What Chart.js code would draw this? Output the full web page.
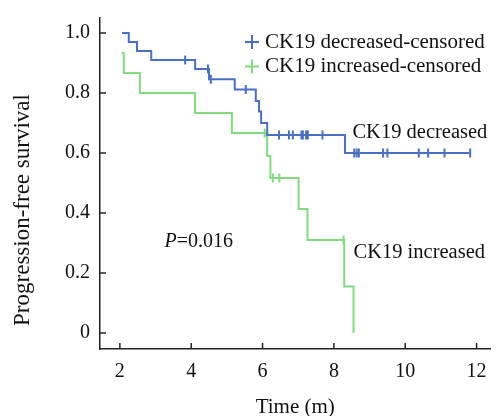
<!DOCTYPE html>
<html>
<head>
<meta charset="utf-8">
<script src="https://cdn.jsdelivr.net/npm/chart.js@4.4.0/dist/chart.umd.min.js"></script>
<style>
html, body { margin: 0; padding: 0; background: #fff; }
#wrap { width: 497px; height: 416px; }
</style>
</head>
<body>
<div id="wrap"><canvas id="grafico"></canvas></div>
<script>
// CK19 decreased: time of each step and survival after the step
const decTimes = [2.06, 2.25, 2.48, 2.88, 4.11, 4.50, 5.22, 5.81, 5.90, 5.96, 6.13, 8.31, 11.82];
const decSurv  = [1.0, 0.97, 0.94, 0.91, 0.88, 0.846, 0.812, 0.773, 0.738, 0.70, 0.66, 0.60, 0.60];
const decCensTimes = [3.83, 4.47, 4.55, 5.53, 6.46, 6.74, 6.85, 7.09, 7.13, 7.22, 7.27, 7.68, 8.57, 8.64, 8.70, 9.38, 9.50, 10.38, 10.64, 11.10, 11.82];
const decCensSurv  = [0.91, 0.88, 0.846, 0.812, 0.66, 0.66, 0.66, 0.66, 0.66, 0.66, 0.66, 0.66, 0.60, 0.60, 0.60, 0.60, 0.60, 0.60, 0.60, 0.60, 0.60];

// CK19 increased
const incTimes = [2.05, 2.11, 2.56, 4.11, 5.14, 6.13, 6.22, 7.01, 7.26, 8.29, 8.55];
const incSurv  = [0.933, 0.867, 0.80, 0.733, 0.667, 0.59, 0.517, 0.413, 0.31, 0.155, 0.0];
const incCensTimes = [6.06, 6.29, 6.47, 8.27];
const incCensSurv  = [0.667, 0.517, 0.517, 0.31];

const xTicks = [2, 4, 6, 8, 10, 12];
const yTicks = [0, 0.2, 0.4, 0.6, 0.8, 1.0];

const blue = '#4a6fc6';
const green = '#80dc7c';
const font = '"Liberation Serif", "Times New Roman", serif';

function toPoints(xs, ys) {
    return xs.map((x, i) => ({ x: x, y: ys[i] }));
}

// inward ticks, axis titles, legend and labels
const extras = {
    id: 'extras',
    afterDraw(chart) {
        const ctx = chart.ctx;
        const sx = chart.scales.x, sy = chart.scales.y;
        const area = chart.chartArea;
        ctx.save();
        ctx.strokeStyle = '#222';
        ctx.lineWidth = 1.5;
        xTicks.forEach(v => {
            const px = sx.getPixelForValue(v);
            ctx.beginPath();
            ctx.moveTo(px, area.bottom);
            ctx.lineTo(px, area.bottom - 6);
            ctx.stroke();
        });
        yTicks.forEach(v => {
            const py = sy.getPixelForValue(v);
            ctx.beginPath();
            ctx.moveTo(area.left, py);
            ctx.lineTo(area.left + 6, py);
            ctx.stroke();
        });

        ctx.fillStyle = '#111';
        ctx.font = '21px ' + font;
        ctx.textAlign = 'center';
        ctx.textBaseline = 'middle';
        ctx.fillText('Time (m)', (area.left + area.right) / 2, 407);
        ctx.save();
        ctx.translate(23, 210);
        ctx.rotate(-Math.PI / 2);
        ctx.font = '23px ' + font;
        ctx.fillText('Progression-free survival', 0, 0);
        ctx.restore();

        // legend
        const items = chart.data.datasets.filter(d => d.isCensor);
        items.forEach((d, i) => {
            const cy = 42 + i * 24.5;
            ctx.strokeStyle = d.borderColor;
            ctx.lineWidth = 2;
            ctx.beginPath();
            ctx.moveTo(245, cy); ctx.lineTo(259, cy);
            ctx.moveTo(252, cy - 7); ctx.lineTo(252, cy + 7);
            ctx.stroke();
            ctx.fillStyle = '#111';
            ctx.textAlign = 'left';
            ctx.fillText(d.label, 265, cy);
        });

        // curve labels and p value
        ctx.font = '20.5px ' + font;
        ctx.textAlign = 'left';
        ctx.textBaseline = 'alphabetic';
        ctx.fillText('CK19 decreased', sx.getPixelForValue(8.52), sy.getPixelForValue(0.65));
        ctx.fillText('CK19 increased', sx.getPixelForValue(8.55), sy.getPixelForValue(0.25));
        const px = sx.getPixelForValue(3.25), py = sy.getPixelForValue(0.288);
        ctx.font = 'italic 20px ' + font;
        ctx.fillText('P', px, py);
        const w = ctx.measureText('P').width;
        ctx.font = '20px ' + font;
        ctx.fillText('=0.016', px + w, py);
        ctx.restore();
    }
};

const grafico = document.getElementById('grafico').getContext('2d');
const myChart = new Chart(grafico, {
    type: 'line',
    data: {
        datasets: [{
            label: 'CK19 decreased',
            data: toPoints(decTimes, decSurv),
            borderColor: blue,
            borderWidth: 2,
            stepped: 'before',
            pointRadius: 0
        }, {
            label: 'CK19 increased',
            data: toPoints(incTimes, incSurv),
            borderColor: green,
            borderWidth: 2,
            stepped: 'before',
            pointRadius: 0
        }, {
            label: 'CK19 decreased-censored',
            isCensor: true,
            data: toPoints(decCensTimes, decCensSurv),
            showLine: false,
            borderColor: blue,
            backgroundColor: blue,
            pointStyle: 'line',
            rotation: 90,
            pointRadius: 4.5,
            pointBorderWidth: 2
        }, {
            label: 'CK19 increased-censored',
            isCensor: true,
            data: toPoints(incCensTimes, incCensSurv),
            showLine: false,
            borderColor: green,
            backgroundColor: green,
            pointStyle: 'line',
            rotation: 90,
            pointRadius: 4.5,
            pointBorderWidth: 2
        }]
    },
    options: {
        responsive: true,
        maintainAspectRatio: false,
        animation: false,
        layout: { padding: { left: 0, right: 4, top: 18, bottom: 0 } },
        plugins: {
            legend: { display: false },
            tooltip: { enabled: false }
        },
        scales: {
            x: {
                type: 'linear',
                min: 1.443,
                max: 12.39,
                grid: { display: false, drawTicks: false },
                border: { display: true, color: '#222', width: 1.5 },
                afterBuildTicks: (scale) => { scale.ticks = xTicks.map(v => ({ value: v })); },
                afterFit: (scale) => { scale.height = 67; scale.paddingLeft = 0; scale.paddingRight = 0; },
                ticks: {
                    color: '#111',
                    padding: 11,
                    maxRotation: 0,
                    font: { family: font, size: 20 }
                }
            },
            y: {
                type: 'linear',
                min: -0.0533,
                max: 1.05,
                grid: { display: false, drawTicks: false },
                border: { display: true, color: '#222', width: 1.5 },
                afterBuildTicks: (scale) => { scale.ticks = yTicks.map(v => ({ value: v })); },
                afterFit: (scale) => { scale.width = 100; scale.paddingTop = 0; scale.paddingBottom = 0; },
                ticks: {
                    color: '#111',
                    padding: 10,
                    font: { family: font, size: 20 },
                    callback: (v) => v === 0 ? '0' : v.toFixed(1)
                }
            }
        }
    },
    plugins: [extras]
});
</script>
</body>
</html>
